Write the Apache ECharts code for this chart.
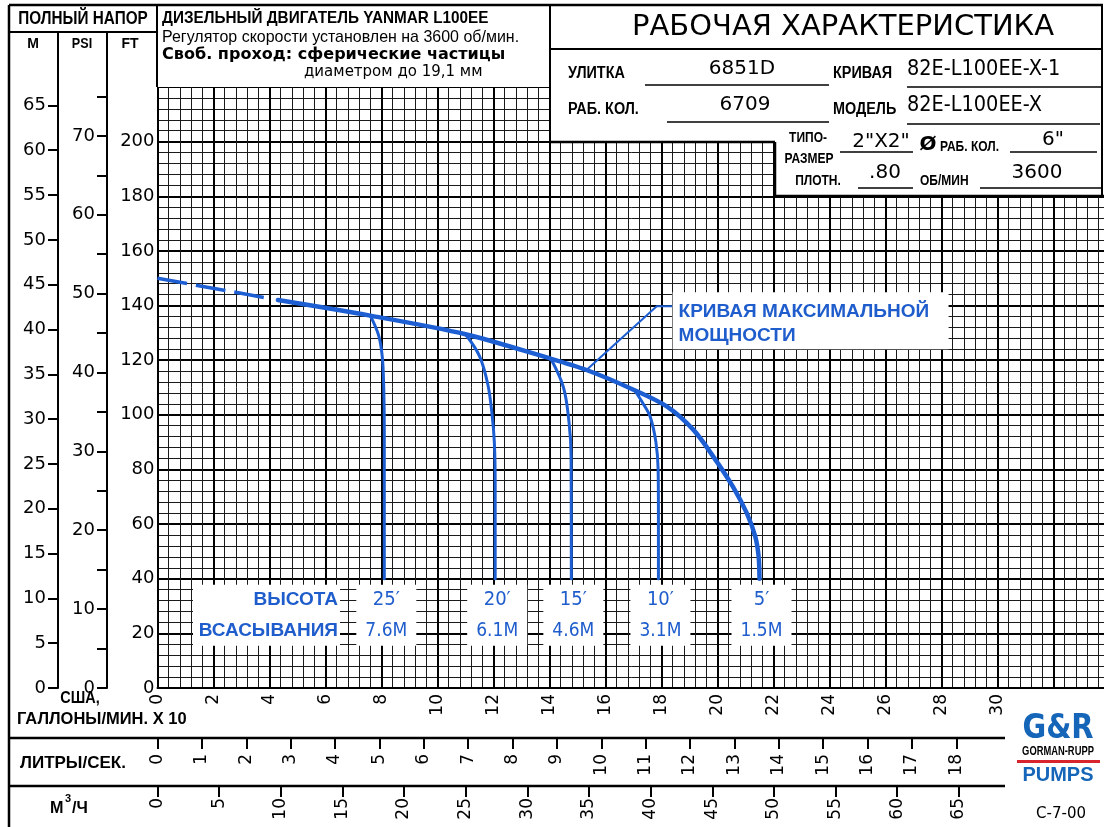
<!DOCTYPE html>
<html><head><meta charset="utf-8">
<script src="https://cdn.jsdelivr.net/npm/echarts@6/dist/echarts.min.js"></script>
<style>html,body{margin:0;padding:0;background:#fff}#c{width:1104px;height:827px}</style>
</head><body><div id="c"></div>
<script>
// ---------- DATA ----------
// x: US GPM x 10, y: total head in feet
const gpmTicks = [0,2,4,6,8,10,12,14,16,18,20,22,24,26,28,30];
const ftLabels = [0,20,40,60,80,100,120,140,160,180,200];
const mTicks = [0,5,10,15,20,25,30,35,40,45,50,55,60,65];
const psiTicks = [0,5,10,15,20,25,30,35,40,45,50,55,60,65,70,75];
const psiLabels = [0,10,20,30,40,50,60,70];
const lpsTicks = [0,1,2,3,4,5,6,7,8,9,10,11,12,13,14,15,16,17,18];
const m3hTicks = [0,5,10,15,20,25,30,35,40,45,50,55,60,65];

const maxPowerDashed = [[0,150],[4.0,142.6]];
const maxPower = [[4.3,142],[7.6,136.3],[11.0,129.5],[13.9,121.0],[15.3,116.5],[17.0,109.2],[18.2,103.0],[19.15,94.4],[19.85,84.7],[20.55,73.7],[21.05,63.9],[21.35,55.4],[21.47,48.0],[21.5,40]];
const lift25 = [[7.6,136.3],[7.9,129],[8.03,121],[8.08,110],[8.1,95],[8.1,40]];
const lift20 = [[11.0,129.5],[11.5,121.5],[11.8,111],[11.95,100],[12.03,90],[12.06,75],[12.06,40]];
const lift15 = [[14.05,120.5],[14.5,110],[14.7,97],[14.77,85],[14.78,40]];
const lift10 = [[17.05,108.8],[17.35,104],[17.6,99.2],[17.8,90],[17.88,80],[17.89,65],[17.89,40]];
const leader = [[15.33,116.5],[17.83,139.7],[18.36,139.7]];

const liftFeet = ['25′','20′','15′','10′','5′'];
const liftMetres = ['7.6M','6.1M','4.6M','3.1M','1.5M'];
const liftAnchorX = [8.1,12.06,14.78,17.89,21.5];

// ---------- SCALES ----------
const FT_MAX = 220, SG = 0.8;
const M_MAX = FT_MAX*0.3048;
const PSI_MAX = FT_MAX*SG/2.31;
const X_MAX = 34;
const LPS_MAX = X_MAX*10*0.0630902;
const M3H_MAX = X_MAX*10*0.2271247;

const GL = 157.5, GT = 87, GW = 952, GH = 601;
const BLUE = '#1d5fd3', TBLUE = '#1f5dcc';
const NUMF = '"DejaVu Sans", sans-serif';

const chart = echarts.init(document.getElementById('c'), null, {renderer:'canvas', width:1104, height:827});

const lineS = (data, w, extra) => Object.assign({type:'line', data, xAxisIndex:0, yAxisIndex:0, showSymbol:false, symbol:'none', silent:true,
  smooth:0.35, lineStyle:{color:BLUE, width:w, cap:'round', join:'round'}, z:5}, extra||{});

chart.setOption({
  animation:false,
  backgroundColor:'#fff',
  grid:[
    {left:GL, top:GT, width:GW, height:GH, outerBoundsMode:'none'},
    {left:GL, top:700, width:GW, height:38, outerBoundsMode:'none'},
    {left:GL, top:746, width:GW, height:40, outerBoundsMode:'none'}
  ],
  xAxis:[
    {gridIndex:0, type:'value', min:0, max:X_MAX, interval:2, position:'bottom',
     axisLine:{show:true, onZero:false, lineStyle:{color:'#000', width:2}},
     axisTick:{show:false}, minorTick:{show:false, splitNumber:5},
     axisLabel:{rotate:90, margin:6, fontSize:17, color:'#000', fontFamily:NUMF, customValues:gpmTicks},
     splitLine:{show:true, lineStyle:{color:'#000', width:2}},
     minorSplitLine:{show:true, lineStyle:{color:'#1a1a1a', width:1}}},
    {gridIndex:1, type:'value', min:0, max:LPS_MAX, interval:1, position:'bottom',
     axisLine:{show:false},
     axisTick:{show:true, length:11, lineStyle:{color:'#000', width:2}, customValues:lpsTicks},
     axisLabel:{rotate:90, margin:16, fontSize:17, color:'#000', fontFamily:NUMF, customValues:lpsTicks},
     splitLine:{show:false}},
    {gridIndex:2, type:'value', min:0, max:M3H_MAX, interval:5, position:'bottom',
     axisLine:{show:false},
     axisTick:{show:true, length:11, lineStyle:{color:'#000', width:2}, customValues:m3hTicks},
     axisLabel:{rotate:90, margin:12, fontSize:17, color:'#000', fontFamily:NUMF, customValues:m3hTicks},
     splitLine:{show:false}}
  ],
  yAxis:[
    {gridIndex:0, type:'value', min:0, max:FT_MAX, interval:20, position:'left',
     axisLine:{show:true, lineStyle:{color:'#000', width:2}},
     axisTick:{show:false}, minorTick:{show:false, splitNumber:5},
     axisLabel:{margin:3, fontSize:18, color:'#000', fontFamily:NUMF, customValues:ftLabels},
     splitLine:{show:true, lineStyle:{color:'#000', width:2}},
     minorSplitLine:{show:true, lineStyle:{color:'#1a1a1a', width:1}}},
    {gridIndex:0, type:'value', min:0, max:M_MAX, interval:5, position:'left', offset:GL-58,
     axisLine:{show:true, lineStyle:{color:'#000', width:2}},
     axisTick:{show:true, length:10, lineStyle:{color:'#000', width:2}, customValues:mTicks},
     axisLabel:{margin:12, fontSize:18, color:'#000', fontFamily:NUMF, customValues:mTicks},
     splitLine:{show:false}},
    {gridIndex:0, type:'value', min:0, max:PSI_MAX, interval:5, position:'left', offset:GL-107,
     axisLine:{show:true, lineStyle:{color:'#000', width:2}},
     axisTick:{show:true, length:10, lineStyle:{color:'#000', width:2}, customValues:psiTicks},
     axisLabel:{margin:12, fontSize:18, color:'#000', fontFamily:NUMF, customValues:psiLabels},
     splitLine:{show:false}},
    {gridIndex:1, type:'value', min:0, max:1, show:false},
    {gridIndex:2, type:'value', min:0, max:1, show:false}
  ],
  series:[
    lineS(maxPowerDashed, 3.5, {smooth:false, lineStyle:{color:BLUE, width:3.5, type:[30,9]}}),
    lineS(maxPower, 4.5, {smooth:0.3}),
    lineS(lift25, 3),
    lineS(lift20, 3),
    lineS(lift15, 3),
    lineS(lift10, 3),
    lineS(leader, 2, {smooth:false})
  ]
});

// ---------- ANNOTATIONS / FRAME ----------
const G = [];
function ln(x1,y1,x2,y2,w,c){G.push({type:'line',silent:true,z:95,shape:{x1,y1,x2,y2},style:{stroke:c||'#000',lineWidth:w||2}});}
function rc(x,y,w,h,fill,z){G.push({type:'rect',silent:true,z:z||90,shape:{x,y,width:w,height:h},style:{fill:fill||'#fff'}});}
function tx(x,y,t,font,o){o=o||{};G.push({type:'text',silent:true,z:100,x,y,scaleX:o.sx||1,
  style:{text:t,x:0,y:0,font,fill:o.c||'#000',align:o.a||'left',verticalAlign:'middle'}});}
const NB = s => `bold ${s}px "Liberation Sans", Arial, sans-serif`;
const NR = s => `${s}px "Liberation Sans", Arial, sans-serif`;
const RD = s => `${s}px "DejaVu Sans", sans-serif`;
const RDB = s => `bold ${s}px "DejaVu Sans", sans-serif`;

// white covers for header boxes
rc(157,0,947,GT);
rc(550,0,554,142);
rc(775,142,329,54);
rc(0,0,157,GT-1);

// frame lines
ln(9,5,1103,5,2.5);
ln(9,5,9,827,2.5);
ln(9,32,157,32,2);
ln(58,32,58,GT,2);
ln(107,32,107,GT,2);
ln(157,5,157,GT,2);
ln(550,5,550,142,2);
ln(550,49,1103,49,2);
ln(550,142,775,142,2.5);
ln(775,142,775,196,2.5);
ln(775,196,1104,196,2.5);
ln(1102,5,1102,196,2);
ln(9,738,1005,738,2.5);
ln(9,786,1005,786,2.5);

// header left
tx(83,19,'ПОЛНЫЙ НАПОР',NB(18),{a:'center',sx:0.85});
tx(33,44,'M',NB(14),{a:'center'});
tx(82,44,'PSI',NB(14),{a:'center',sx:0.9});
tx(130,44,'FT',NB(14),{a:'center'});

// header middle
tx(162,18,'ДИЗЕЛЬНЫЙ ДВИГАТЕЛЬ YANMAR L100EE',NB(17),{sx:0.9});
tx(162,37,'Регулятор скорости установлен на 3600 об/мин.',NR(17),{sx:0.94});
tx(162,55,'Своб. проход: сферические частицы',RDB(15),{sx:1.07});
tx(304,72,'диаметром до 19,1 мм',RD(15));

// header right
tx(843,27,'РАБОЧАЯ ХАРАКТЕРИСТИКА',RD(29),{a:'center'});
tx(568,74,'УЛИТКА',NB(16),{sx:0.9});
tx(742,69,'6851D',RD(20),{a:'center'});
ln(645,85,829,85,1.5);
tx(833,74,'КРИВАЯ',NB(16),{sx:0.9});
tx(907,70,'82E-L100EE-X-1',RD(21),{sx:0.92});
ln(907,87,1101,87,1.5);
tx(568,110,'РАБ. КОЛ.',NB(16),{sx:0.9});
tx(745,105,'6709',RD(20),{a:'center'});
ln(667,122,829,122,1.5);
tx(833,110,'МОДЕЛЬ',NB(16),{sx:0.9});
tx(907,106,'82E-L100EE-X',RD(21),{sx:0.92});
ln(907,124,1100,124,1.5);
tx(808,138,'ТИПО-',NB(15),{a:'center',sx:0.8});
tx(809,159,'РАЗМЕР',NB(15),{a:'center',sx:0.8});
tx(818,181,'ПЛОТН.',NB(15),{a:'center',sx:0.8});
tx(881,142,'2"X2"',RD(20),{a:'center'});
ln(840,152,913,152,1.5);
tx(928,145,'Ø',RDB(20),{a:'center'});
tx(940,147,'РАБ. КОЛ.',NB(15),{sx:0.8});
tx(1053,140,'6"',RD(20),{a:'center'});
ln(1010,152,1097,152,1.5);
tx(885,173,'.80',RD(20),{a:'center'});
ln(858,188,913,188,1.5);
tx(920,181,'ОБ/МИН',NB(15),{sx:0.8});
tx(1037,173,'3600',RD(20),{a:'center'});
ln(980,188,1102,188,1.5);

// bottom left unit labels
tx(80,698,'США,',NB(17),{a:'center',sx:0.85});
tx(17,719,'ГАЛЛОНЫ/МИН. X 10',NB(17),{sx:0.97});
tx(20,763,'ЛИТРЫ/СЕК.',NB(17),{sx:1.0});
tx(50,808,'M',NB(17),{sx:0.95});
tx(65,799,'3',NB(11));
tx(72,808,'/Ч',NB(17),{sx:0.95});
tx(1061,814,'C-7-00',RD(15),{a:'center'});

// logo
tx(1058,729,'G&R',RDB(34),{a:'center',c:'#1565b8',sx:0.85});
tx(1058,752,'GORMAN-RUPP',NB(12),{a:'center',sx:0.78});
rc(1017,760,83,3,'#d8242c',95);
tx(1058,775,'PUMPS',NB(21),{a:'center',c:'#1565b8',sx:0.95});

// suction-lift labels anchored to curve x positions
const yTop = chart.convertToPixel({gridIndex:0},[0,40])[1];
rc(193,yTop+6,147,61);
tx(338,yTop+21,'ВЫСОТА',NB(19),{a:'right',c:TBLUE});
tx(338,yTop+52,'ВСАСЫВАНИЯ',NB(19),{a:'right',c:TBLUE});
liftAnchorX.forEach((xv,i)=>{
  const p = chart.convertToPixel({gridIndex:0},[xv,40]);
  const cx = p[0]+2;
  rc(cx-30,yTop+6,60,61);
  tx(cx,yTop+21,liftFeet[i],RD(19),{a:'center',c:TBLUE,sx:0.95});
  tx(cx,yTop+52,liftMetres[i],RD(19),{a:'center',c:TBLUE,sx:0.9});
});

// max power label at leader end
const le = chart.convertToPixel({gridIndex:0}, leader[leader.length-1]);
rc(le[0]+1,le[1]-14,276,57);
tx(le[0]+7,le[1]+5,'КРИВАЯ МАКСИМАЛЬНОЙ',NB(19),{c:TBLUE});
tx(le[0]+7,le[1]+29,'МОЩНОСТИ',NB(19),{c:TBLUE});

chart.setOption({graphic:{elements:G}});
</script>
</body></html>
